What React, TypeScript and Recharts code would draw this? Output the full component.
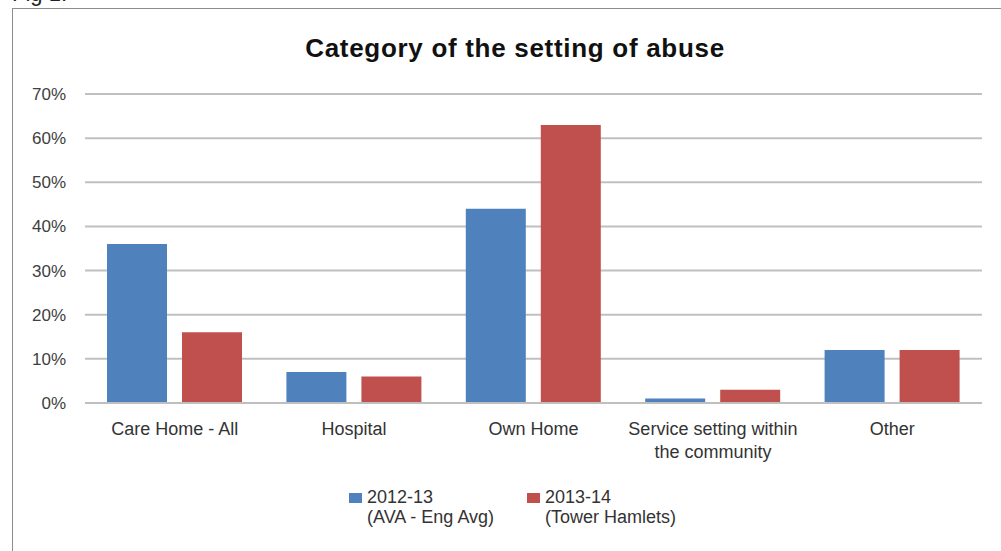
import React from "react";
import { Bar, BarChart, CartesianGrid, XAxis, YAxis } from "recharts";

const categories = ["Care Home - All", "Hospital", "Own Home", "Service setting within the community", "Other"];
const categoryLines = [["Care Home - All"], ["Hospital"], ["Own Home"], ["Service setting within", "the community"], ["Other"]];
const avaEngAvg = [36, 7, 44, 1, 12];
const towerHamlets = [16, 6, 63, 3, 12];
const yTicks = [0, 10, 20, 30, 40, 50, 60, 70];

const seriesInfo = [
  { key: "ava", line1: "2012-13", line2: "(AVA - Eng Avg)", color: "#4f81bd" },
  { key: "th", line1: "2013-14", line2: "(Tower Hamlets)", color: "#c0504d" },
];

const data = categories.map((name, i) => ({
  name,
  ava: avaEngAvg[i],
  th: towerHamlets[i],
}));

const FONT = "'Liberation Sans', Arial, sans-serif";

const CategoryTick = (props: any) => {
  const { x, y, payload, index } = props;
  const lines = categoryLines[index] || [payload.value];
  return (
    <g transform={`translate(${x},${y})`}>
      {lines.map((l: string, i: number) => (
        <text
          key={i}
          x={0}
          y={i * 23}
          dy={24}
          textAnchor="middle"
          fill="#333"
          fontSize={18}
          fontFamily={FONT}
        >
          {l}
        </text>
      ))}
    </g>
  );
};

const ChartLegend = () => (
  <div
    style={{
      position: "absolute",
      left: 349,
      top: 487,
      display: "flex",
      fontFamily: FONT,
      fontSize: 18,
      color: "#333",
      lineHeight: "20px",
    }}
  >
    {seriesInfo.map((s, i) => (
      <div key={s.key} style={{ display: "flex", alignItems: "flex-start", width: i === 0 ? 178 : 170 }}>
        <div style={{ width: 13, height: 10, background: s.color, marginTop: 6, marginRight: 5 }} />
        <div>
          <div>{s.line1}</div>
          <div>{s.line2}</div>
        </div>
      </div>
    ))}
  </div>
);

export default function App() {
  return (
    <div style={{ position: "absolute", left: 0, top: 0, width: 1001, height: 551, overflow: "hidden", background: "#fff" }}>
      <div style={{ position: "absolute", left: 12, top: -19, fontFamily: FONT, fontSize: 22, color: "#222" }}>Fig 1.</div>
      <div style={{ position: "absolute", left: 12, top: 8, width: 1000, height: 560, border: "1px solid #8c8c8c" }} />
      <div
        style={{
          position: "absolute",
          left: 0,
          width: 1030,
          top: 33,
          textAlign: "center",
          fontFamily: FONT,
          fontSize: 26,
          letterSpacing: 0.7,
          fontWeight: "bold",
          color: "#111",
        }}
      >
        Category of the setting of abuse
      </div>
      <div style={{ position: "absolute", left: 0, top: 0 }}>
        <BarChart
          width={1001}
          height={551}
          data={data}
          margin={{ top: 94, right: 19, left: 0, bottom: 78 }}
          barSize={60}
          barGap={15}
        >
          <CartesianGrid vertical={false} stroke="#c0c0c0" strokeWidth={2} />
          <XAxis
            dataKey="name"
            tick={<CategoryTick />}
            tickLine={false}
            axisLine={{ stroke: "#bfbfbf", strokeWidth: 2 }}
            interval={0}
            height={70}
          />
          <YAxis
            width={85}
            domain={[0, 70]}
            ticks={yTicks}
            tickFormatter={(v: number) => `${v}%`}
            tickLine={false}
            axisLine={false}
            tickMargin={13}
            tick={{ fill: "#404040", fontSize: 17, fontFamily: FONT }}
          />
          {seriesInfo.map((s) => (
            <Bar key={s.key} dataKey={s.key} fill={s.color} isAnimationActive={false} />
          ))}
        </BarChart>
      </div>
      <ChartLegend />
    </div>
  );
}
